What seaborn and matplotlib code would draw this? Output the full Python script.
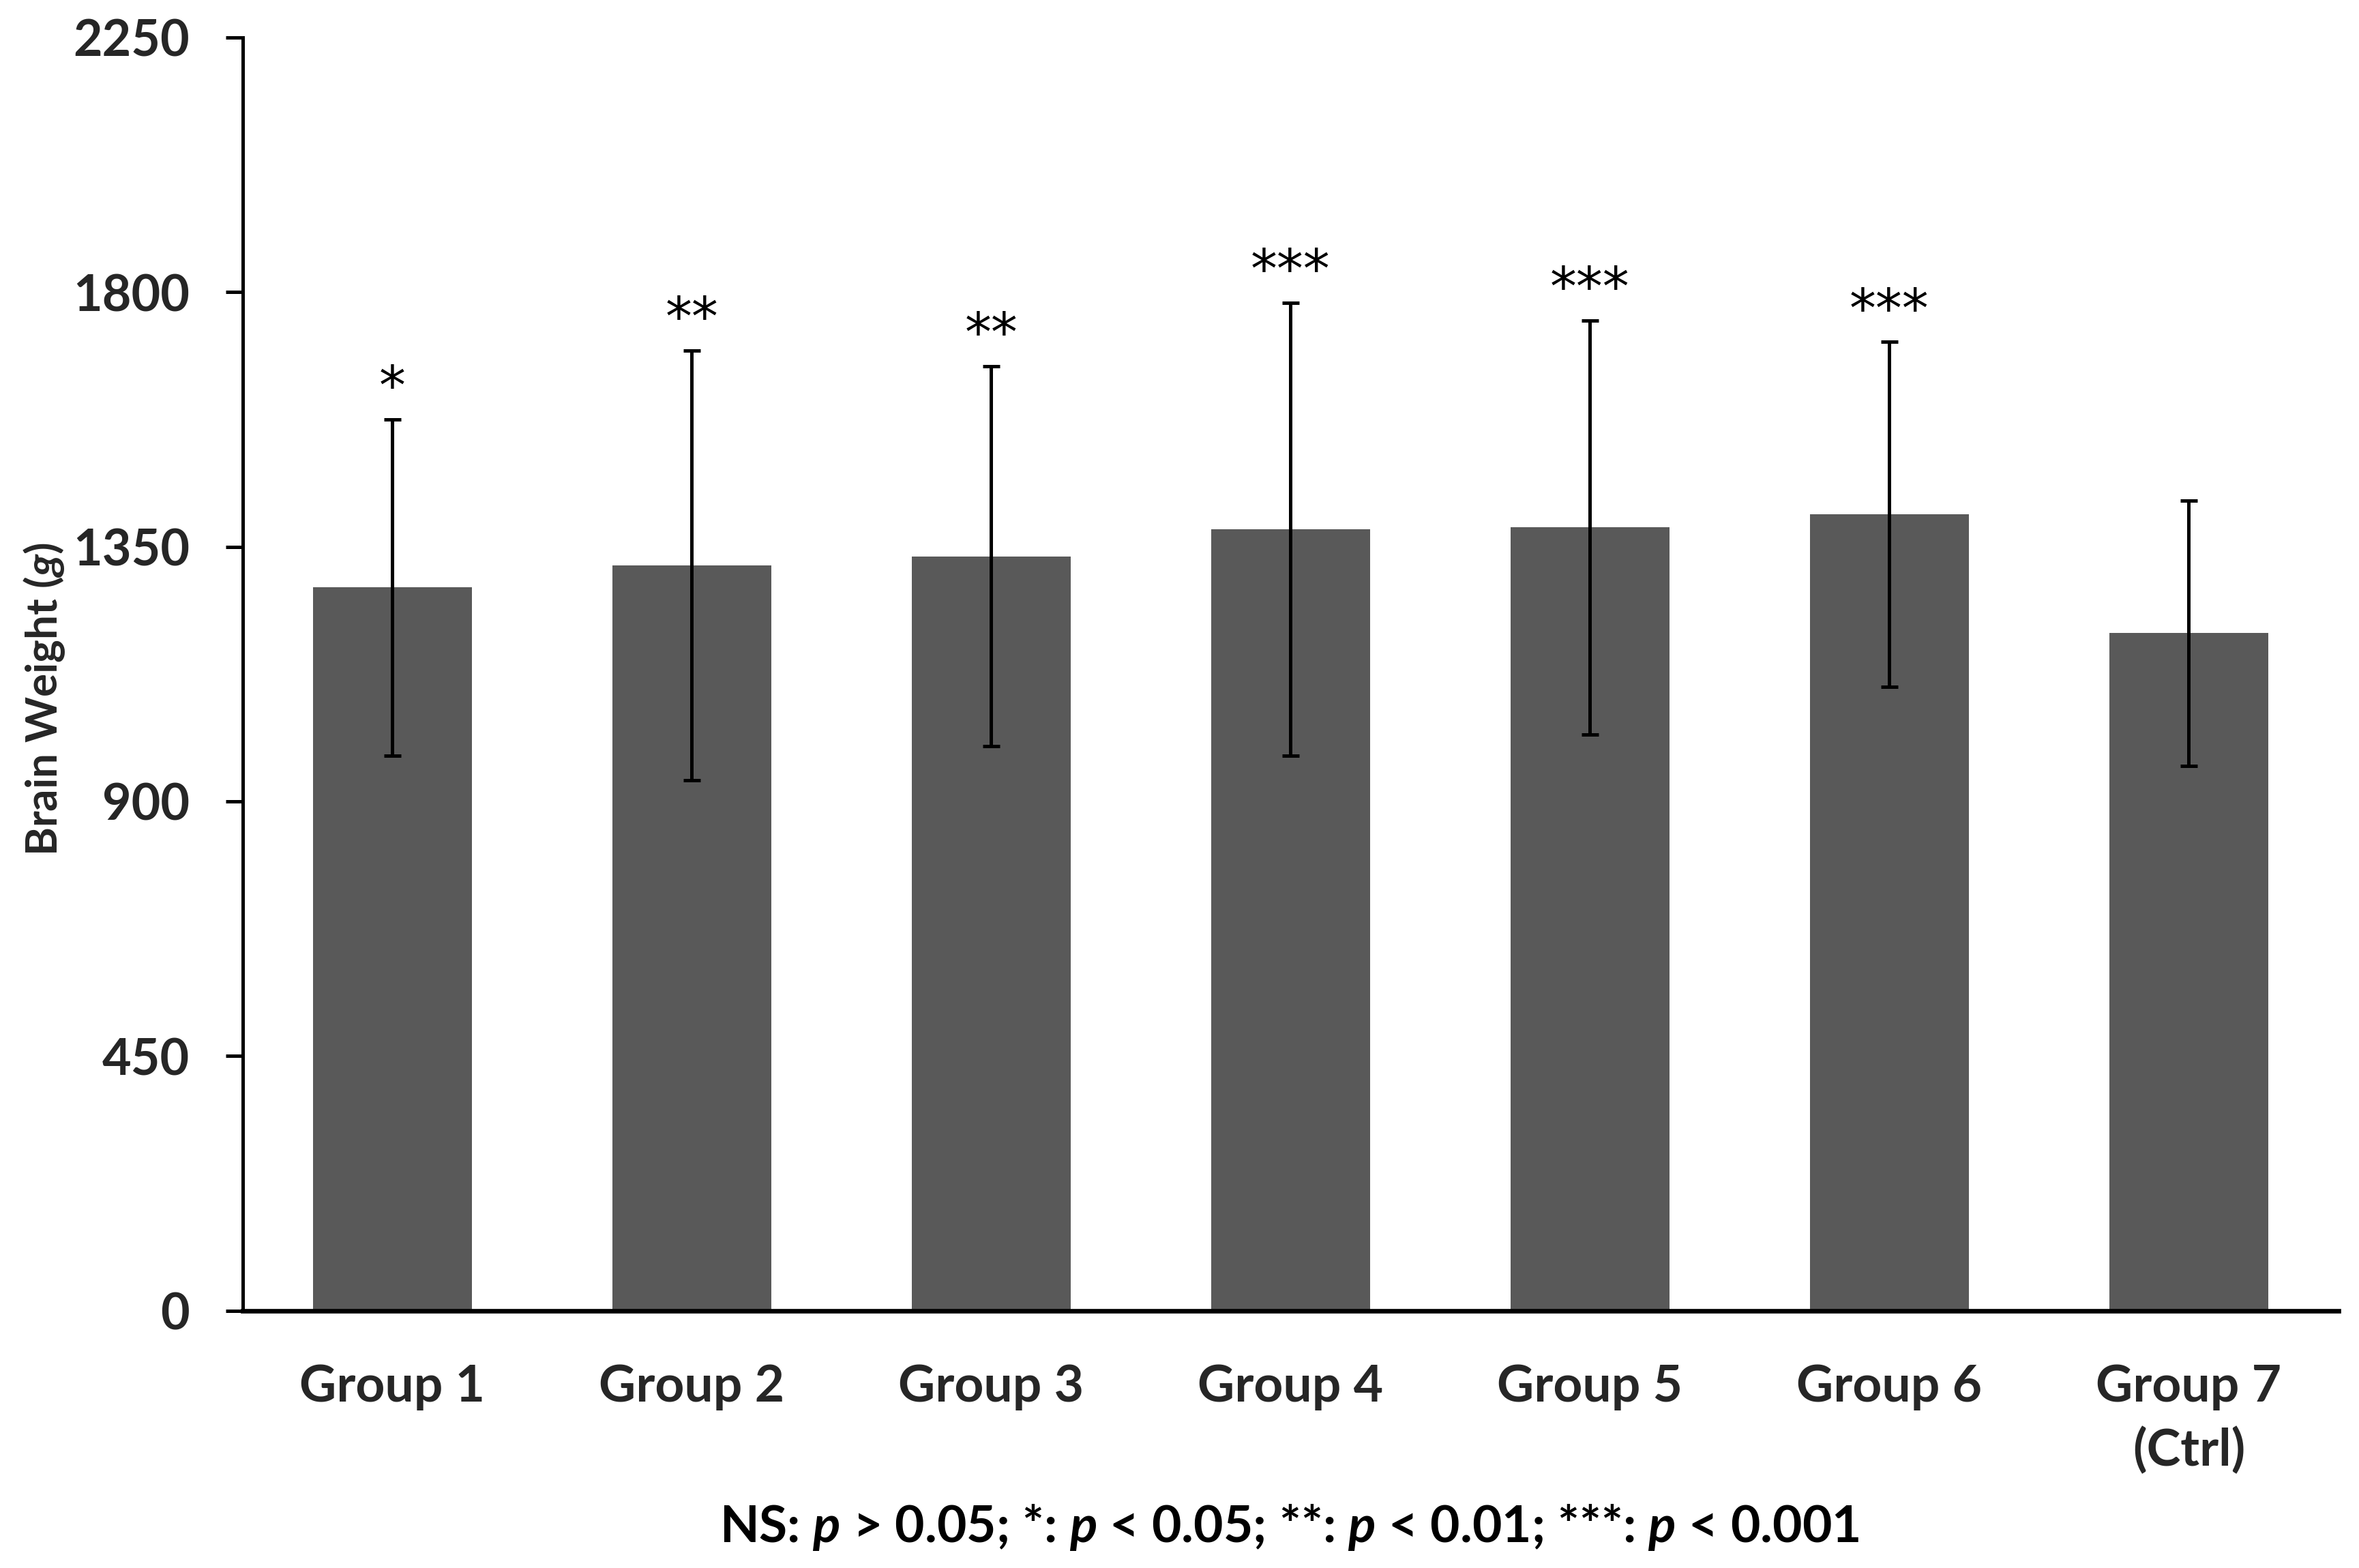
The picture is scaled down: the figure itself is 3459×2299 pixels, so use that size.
import matplotlib
matplotlib.use("Agg")
import matplotlib.pyplot as plt
import seaborn as sns
import pandas as pd

groups = ["Group 1", "Group 2", "Group 3", "Group 4", "Group 5", "Group 6", "Group 7\n(Ctrl)"]
means = [1278, 1317, 1333, 1381, 1384, 1407, 1197]
sds = [297, 380, 336, 400, 366, 305, 235]
stars = ["*", "**", "**", "***", "***", "***", ""]
yticks = [0, 450, 900, 1350, 1800, 2250]
ylabel = "Brain Weight ($g$)"
footnote = "NS: $p$ > 0.05; *: $p$ < 0.05; **: $p$ < 0.01; ***: $p$ < 0.001"

sns.set_theme(style="white")
plt.rcParams["font.family"] = ["Lato", "DejaVu Sans"]
plt.rcParams["font.weight"] = "bold"
plt.rcParams["mathtext.fontset"] = "custom"
plt.rcParams["mathtext.it"] = "Lato:italic:bold"
plt.rcParams["mathtext.rm"] = "Lato:bold"
plt.rcParams["mathtext.bf"] = "Lato:bold"

df = pd.DataFrame({"group": groups, "mean": means, "sd": sds})

fig = plt.figure(figsize=(17.295, 11.495), dpi=200)
ax = fig.add_axes([0.1029, 0.1642, 0.8884, 0.8119])

sns.barplot(data=df, x="group", y="mean", color="#595959", saturation=1,
            width=0.53, errorbar=None, ax=ax, linewidth=0)
ax.errorbar(x=range(len(groups)), y=df["mean"], yerr=df["sd"], fmt="none",
            ecolor="black", elinewidth=1.8, capsize=4.5, capthick=1.8, zorder=5)

for i, s in enumerate(stars):
    if s:
        ax.text(i, means[i] + sds[i] + 8, s, ha="center", va="bottom",
                fontsize=28, fontweight="normal", color="black",
                family=["DejaVu Sans"])

ax.set_xlim(-0.5, len(groups) - 0.5)
ax.set_ylim(0, 2250)
ax.set_yticks(yticks)
ax.set_yticklabels([str(t) for t in yticks], fontsize=26.5, fontweight="bold")
ax.tick_params(axis="y", length=9, width=1.8, color="black", pad=19, direction="out", left=True)
ax.tick_params(axis="x", length=0, pad=28, labelsize=27)
for lbl in ax.get_xticklabels():
    lbl.set_fontweight("bold")
    lbl.set_linespacing(1.4)

ax.set_xlabel("")
ax.set_ylabel(ylabel, fontsize=23, fontweight="bold")
ax.yaxis.set_label_coords(-0.084, 0.48)

sns.despine(ax=ax)
ax.spines["left"].set_linewidth(1.8)
ax.spines["bottom"].set_linewidth(2.4)
ax.spines["left"].set_color("black")
ax.spines["bottom"].set_color("black")

fig.text(0.5465, 0.026, footnote, ha="center", va="center", fontsize=27,
         fontweight="bold", color="black")

fig.savefig("out.png", dpi=200, facecolor="white")
